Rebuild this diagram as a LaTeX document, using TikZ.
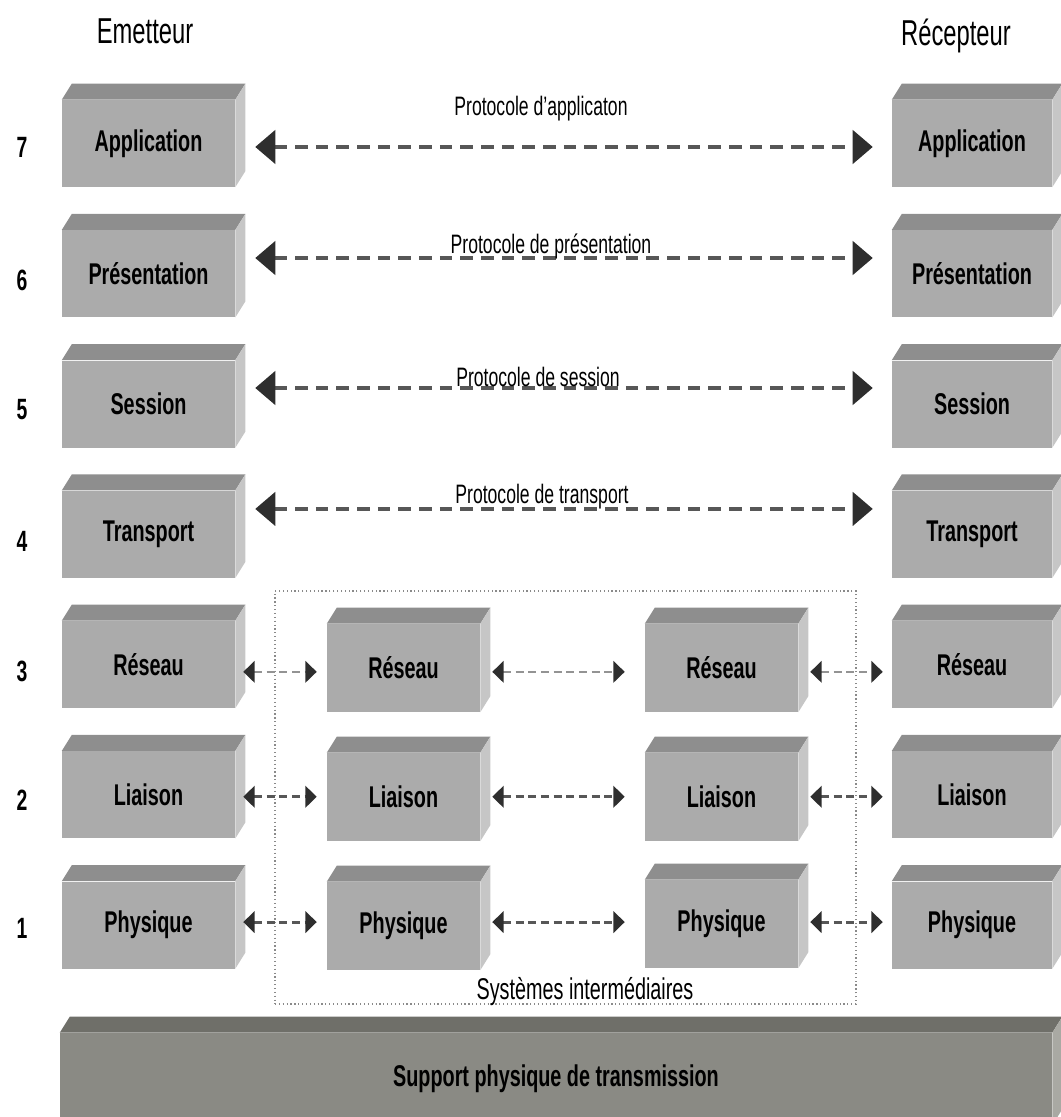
\documentclass[tikz,border=0pt]{standalone}
\usepackage{fontspec}
\setmainfont{Liberation Sans}[FakeStretch=0.66]
\usetikzlibrary{arrows.meta}

\definecolor{frontgray}{HTML}{ABABAB}
\definecolor{topgray}{HTML}{8E8E8E}
\definecolor{sidegray}{HTML}{C6C6C6}
\definecolor{basefront}{HTML}{8A8A84}
\definecolor{basetop}{HTML}{6F6F69}
\definecolor{baseside}{HTML}{A9A9A3}
\definecolor{dashgray}{HTML}{575757}
\definecolor{lightdash}{HTML}{939393}
\definecolor{tipgray}{HTML}{2E2E2E}
\definecolor{framegray}{HTML}{8A8A8A}

\begin{document}
\begin{tikzpicture}[x=0.75pt,y=-0.75pt,
  layerbox/.style={fill=frontgray, minimum height=65.25pt, inner sep=0pt,
    font=\fontsize{22.5}{27}\selectfont\bfseries},
  outerbox/.style={layerbox, minimum width=129.75pt},
  farbox/.style={layerbox, minimum width=120pt},
  relaybox/.style={layerbox, minimum width=114.75pt, minimum height=66pt},
  basebox/.style={fill=basefront, minimum width=744pt, minimum height=69pt, inner sep=0pt,
    font=\fontsize{22.5}{27}\selectfont\bfseries},
  heading/.style={font=\fontsize{27}{32}\selectfont, anchor=base},
  layernum/.style={font=\fontsize{22}{26}\selectfont\bfseries},
  protolabel/.style={font=\fontsize{20}{24}\selectfont, anchor=base},
  proto/.style={draw=dashgray, line width=2.5pt, dash pattern=on 9.5pt off 6pt,
    {Triangle[length=15pt,width=25pt,color=tipgray]}-{Triangle[length=15pt,width=25pt,color=tipgray]}},
  hop/.style={draw=dashgray, line width=2.3pt, dash pattern=on 6pt off 3.5pt,
    {Triangle[length=8.5pt,width=16pt,color=tipgray]}-{Triangle[length=8.5pt,width=16pt,color=tipgray]}},
  lighthop/.style={hop, draw=lightdash, line width=1.8pt},
  frame/.style={draw=framegray, dotted, line width=0.9pt, minimum width=435.75pt,
    minimum height=309.75pt, inner sep=0pt}
]
\useasboundingbox (0,0) rectangle (1060,1117);

% column headings
\node[heading] (emet) at (145,43) {Emetteur};
\node[heading] (recep) at (956,45) {Récepteur};

% frame around the intermediate systems
\node[frame] (inter) at (565.5,797.5) {};
\node[font=\fontsize{22.5}{27}\selectfont, anchor=base] (interlabel) at (585,999) {Systèmes intermédiaires};

% sending stack
\node[outerbox] (e7) at (148.5,143.5) {Application};
\node[outerbox] (e6) at (148.5,273.75) {Présentation};
\node[outerbox] (e5) at (148.5,404) {Session};
\node[outerbox] (e4) at (148.5,534.25) {Transport};
\node[outerbox] (e3) at (148.5,664.5) {Réseau};
\node[outerbox] (e2) at (148.5,794.75) {Liaison};
\node[outerbox] (e1) at (148.5,925) {Physique};

% receiving stack
\node[farbox] (r7) at (972,143.5) {Application};
\node[farbox] (r6) at (972,273.75) {Présentation};
\node[farbox] (r5) at (972,404) {Session};
\node[farbox] (r4) at (972,534.25) {Transport};
\node[farbox] (r3) at (972,664.5) {Réseau};
\node[farbox] (r2) at (972,794.75) {Liaison};
\node[farbox] (r1) at (972,925) {Physique};

% intermediate systems
\node[relaybox] (a3) at (403.5,668) {Réseau};
\node[relaybox] (a2) at (403.5,797) {Liaison};
\node[relaybox] (a1) at (403.5,926) {Physique};
\node[relaybox] (b3) at (721.5,668) {Réseau};
\node[relaybox] (b2) at (721.5,797) {Liaison};
\node[relaybox] (b1) at (721.5,924) {Physique};

% transmission medium
\node[basebox] (medium) at (556,1079) {Support physique de transmission};

% top and side faces of the blocks
\foreach \n in {e7,e6,e5,e4,e3,e2,e1,r7,r6,r5,r4,r3,r2,r1,a3,a2,a1,b3,b2,b1} {
  \fill[topgray] (\n.north west) -- ++(10,-16) -- ([shift={(10,-16)}]\n.north east) -- (\n.north east) -- cycle;
  \fill[sidegray] (\n.north east) -- ++(10,-16) -- ([shift={(10,-16)}]\n.south east) -- (\n.south east) -- cycle;
}
\fill[basetop] (medium.north west) -- ++(10,-16) -- ([shift={(10,-16)}]medium.north east) -- (medium.north east) -- cycle;
\fill[baseside] (medium.north east) -- ++(10,-16) -- ([shift={(10,-16)}]medium.south east) -- (medium.south east) -- cycle;

% layer numbers
\foreach \k/\y in {7/147,6/280,5/410,4/541,3/671,2/800,1/928} {
  \node[layernum] (n\k) at (22,\y) {\k};
}

% peer protocols, layers 7 to 4
\draw[proto, shorten <=15pt, shorten >=14.25pt] ([yshift=-2.6pt]e7.east) -- ([yshift=-2.6pt]r7.west);
\draw[proto, shorten <=15pt, shorten >=14.25pt] ([yshift=11.8pt]e6.east) -- ([yshift=11.8pt]r6.west);
\draw[proto, shorten <=15pt, shorten >=14.25pt] ([yshift=12pt]e5.east) -- ([yshift=12pt]r5.west);
\draw[proto, shorten <=15pt, shorten >=14.25pt] ([yshift=19pt]e4.east) -- ([yshift=19pt]r4.west);

\node[protolabel] (p7) at (541,115) {Protocole d'applicaton};
\node[protolabel] (p6) at (551,253) {Protocole de présentation};
\node[protolabel] (p5) at (538,386) {Protocole de session};
\node[protolabel] (p4) at (542,503) {Protocole de transport};

% hop-by-hop exchanges, layers 3 to 1
\draw[lighthop, shorten <=6pt, shorten >=7.5pt] ([yshift=-5.5pt]e3.east) -- ([yshift=-5.5pt]e3.east -| a3.west);
\draw[lighthop, shorten <=9pt, shorten >=15pt] ([yshift=-5.5pt]e3.east -| a3.east) -- ([yshift=-5.5pt]e3.east -| b3.west);
\draw[lighthop, shorten <=9pt, shorten >=6.75pt] ([yshift=-5.5pt]e3.east -| b3.east) -- ([yshift=-5.5pt]r3.west);

\draw[hop, shorten <=6pt, shorten >=7.5pt] ([yshift=-1.5pt]e2.east) -- ([yshift=-1.5pt]e2.east -| a2.west);
\draw[hop, shorten <=9pt, shorten >=15pt] ([yshift=-1.5pt]e2.east -| a2.east) -- ([yshift=-1.5pt]e2.east -| b2.west);
\draw[hop, shorten <=9pt, shorten >=6.75pt] ([yshift=-1.5pt]e2.east -| b2.east) -- ([yshift=-1.5pt]r2.west);

\draw[hop, shorten <=6pt, shorten >=7.5pt] ([yshift=2.2pt]e1.east) -- ([yshift=2.2pt]e1.east -| a1.west);
\draw[hop, shorten <=9pt, shorten >=15pt] ([yshift=2.2pt]e1.east -| a1.east) -- ([yshift=2.2pt]e1.east -| b1.west);
\draw[hop, shorten <=9pt, shorten >=6.75pt] ([yshift=2.2pt]e1.east -| b1.east) -- ([yshift=2.2pt]r1.west);
\end{tikzpicture}
\end{document}
